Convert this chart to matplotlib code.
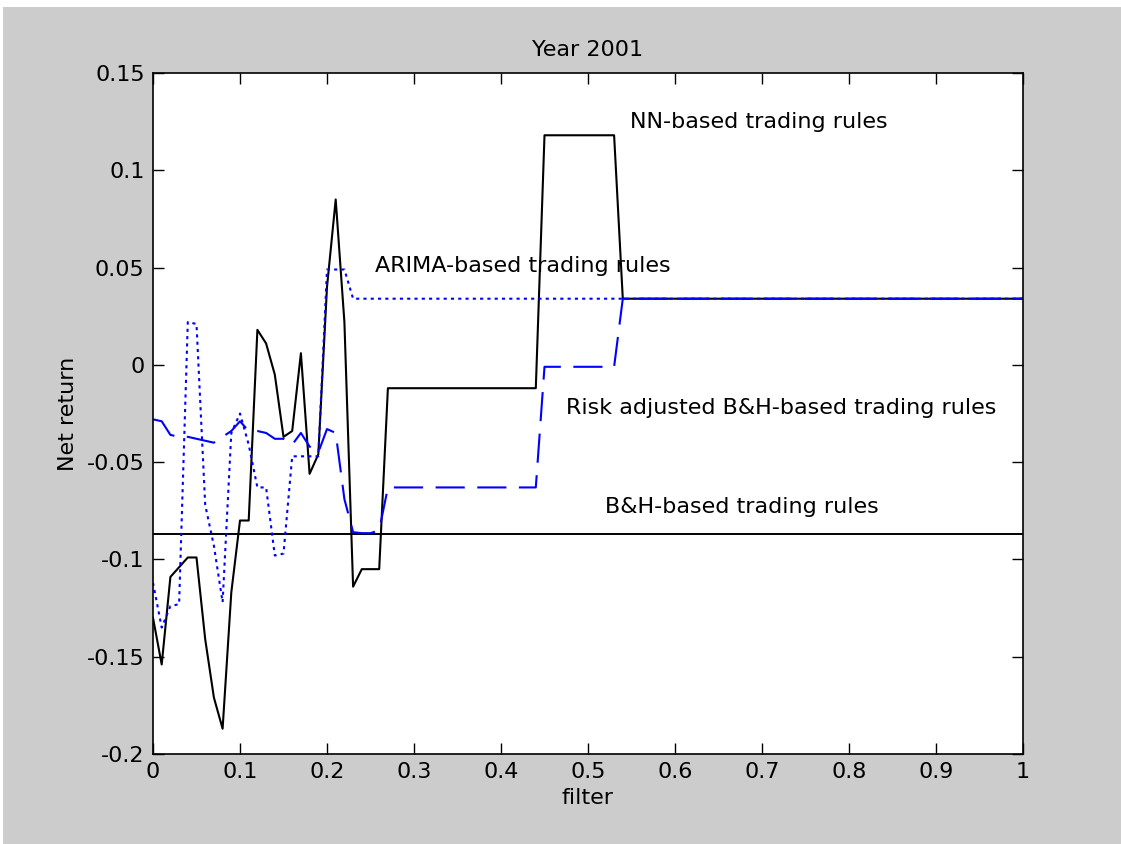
import numpy as np
import matplotlib.pyplot as plt
from matplotlib.patches import Rectangle

# filter grid: 0, 0.01, ..., 1
filt = np.round(np.arange(101) * 0.01, 2)

# NN-based rules, values for filter 0..0.27, then plateaus
nn_head = [-0.130, -0.154, -0.109, -0.104, -0.099, -0.099, -0.141, -0.171, -0.187, -0.117,
           -0.080, -0.080, 0.018, 0.011, -0.005, -0.037, -0.034, 0.006, -0.056, -0.046,
           0.040, 0.085, 0.022, -0.114, -0.105, -0.105, -0.105]
nn = nn_head + [-0.012] * 18 + [0.118] * 9 + [0.034] * 47

# ARIMA-based rules
arima_head = [-0.112, -0.135, -0.124, -0.123, 0.022, 0.021, -0.072, -0.093, -0.122, -0.035,
              -0.025, -0.041, -0.063, -0.063, -0.098, -0.097, -0.047, -0.047, -0.047, -0.047,
              0.049, 0.049, 0.049]
arima = arima_head + [0.034] * 78

# risk adjusted B&H-based rules
risk_head = [-0.028, -0.029, -0.036, -0.037, -0.037, -0.038, -0.039, -0.040, -0.037, -0.034,
             -0.029, -0.034, -0.034, -0.035, -0.038, -0.038, -0.041, -0.035, -0.042, -0.045,
             -0.033, -0.035, -0.069, -0.086, -0.0865, -0.0865, -0.085]
risk = risk_head + [-0.063] * 18 + [-0.001] * 9 + [0.034] * 47

# B&H-based rules (constant)
bh = [-0.087] * 101

xticks = [0, 0.1, 0.2, 0.3, 0.4, 0.5, 0.6, 0.7, 0.8, 0.9, 1]
yticks = [-0.2, -0.15, -0.1, -0.05, 0, 0.05, 0.1, 0.15]
ytick_labels = ["-0.2", "-0.15", "-0.1", "-0.05", "0", "0.05", "0.1", "0.15"]
xtick_labels = ["0", "0.1", "0.2", "0.3", "0.4", "0.5", "0.6", "0.7", "0.8", "0.9", "1"]

fs = 16
fig = plt.figure(figsize=(11.21, 8.44), dpi=100, facecolor="white")
# grey MATLAB window background (thin white strip on top / left as in the picture)
fig.patches.append(Rectangle((3 / 1121, 0), 1, 1 - 7 / 844, transform=fig.transFigure,
                             facecolor="#cccccc", edgecolor="none", zorder=-10))

ax = fig.add_axes([153 / 1121, 1 - 754 / 844, 870 / 1121, 681 / 844])
ax.set_facecolor("white")

ax.plot(filt, bh, color="black", lw=1.4)
ax.plot(filt, nn, color="black", lw=1.5)
ax.plot(filt, risk, color="blue", lw=1.5, dashes=(14, 6))
ax.plot(filt, arima, color="blue", lw=1.5, dashes=(1.5, 2))

ax.set_xlim(0, 1)
ax.set_ylim(-0.2, 0.15)
ax.set_xticks(xticks)
ax.set_xticklabels(xtick_labels)
ax.set_yticks(yticks)
ax.set_yticklabels(ytick_labels)
ax.tick_params(direction="in", length=8, width=1, top=True, right=True,
               labelsize=fs, colors="black", pad=6)
for sp in ax.spines.values():
    sp.set_linewidth(1.2)

ax.set_title("Year 2001", fontsize=fs, pad=12)
ax.set_xlabel("filter", fontsize=fs, labelpad=4)
ax.set_ylabel("Net return", fontsize=fs, labelpad=6)

ax.text(0.548, 0.125, "NN-based trading rules", fontsize=fs, va="center", ha="left")
ax.text(0.255, 0.0508, "ARIMA-based trading rules", fontsize=fs, va="center", ha="left")
ax.text(0.475, -0.0222, "Risk adjusted B&H-based trading rules", fontsize=fs,
        va="center", ha="left")
ax.text(0.52, -0.073, "B&H-based trading rules", fontsize=fs, va="center", ha="left")

fig.savefig("out.png", dpi=100, facecolor=fig.get_facecolor())
